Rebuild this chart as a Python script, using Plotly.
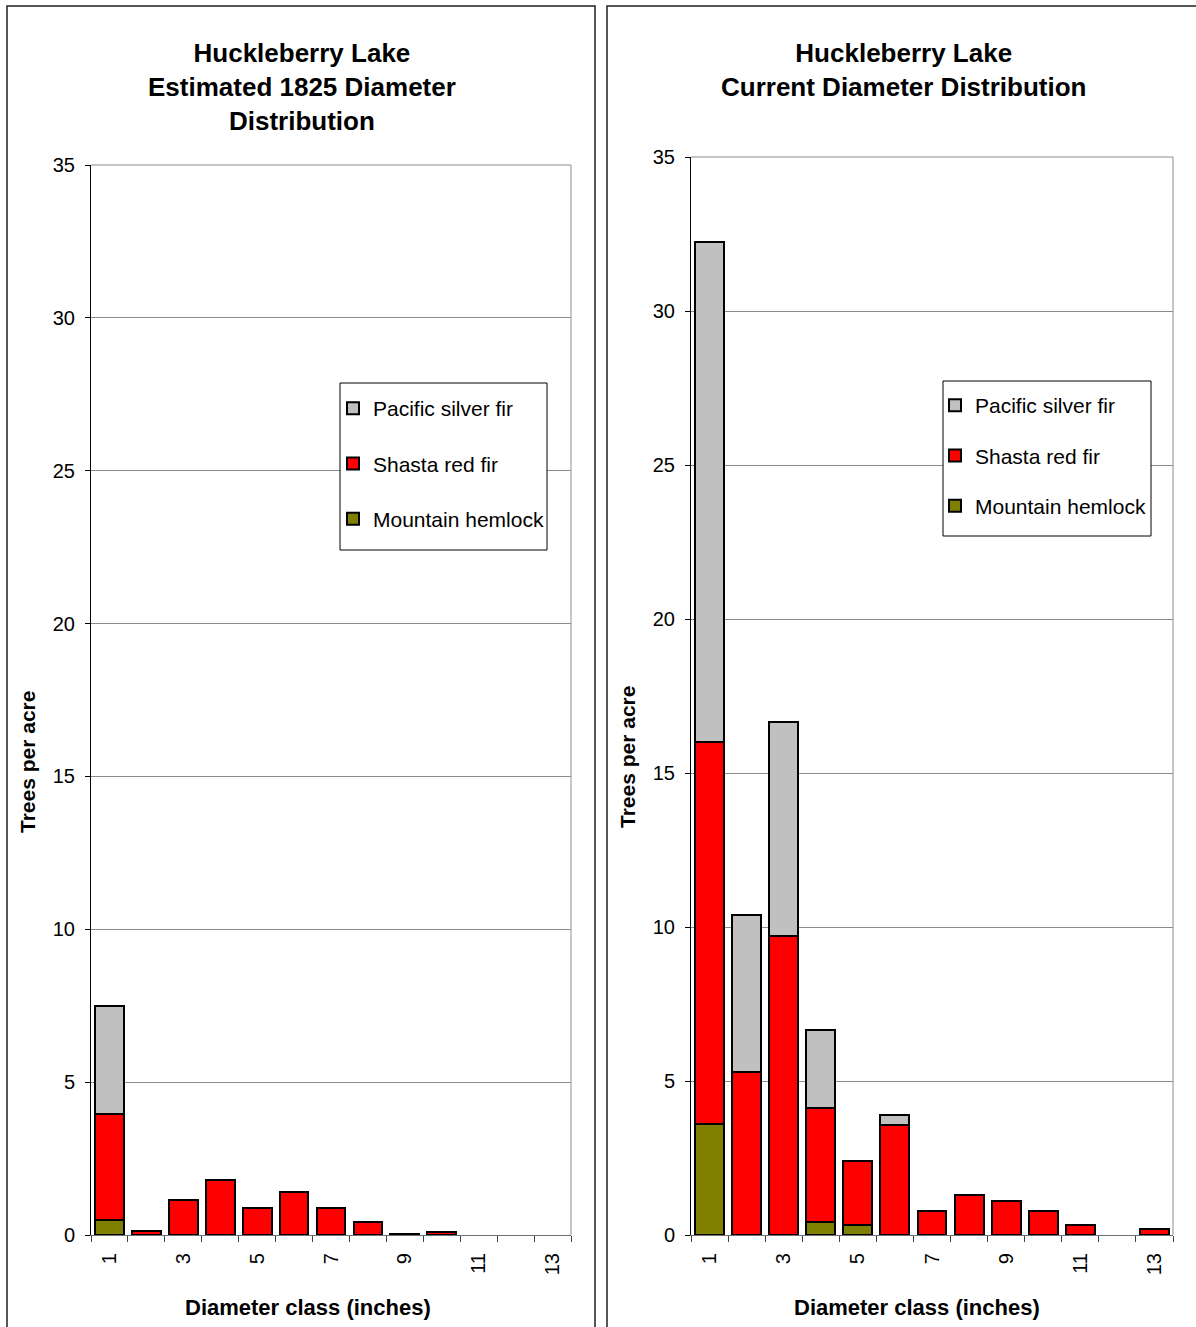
import plotly.graph_objects as go

# Diameter classes (inches)
classes = list(range(1, 14))
tick_vals = [1, 3, 5, 7, 9, 11, 13]
tick_text = ["1", "3", "5", "7", "9", "11", "13"]

# Estimated 1825 stand, trees per acre
hemlock_1825 = [0.5, 0, 0, 0, 0, 0, 0, 0, 0, 0, None, None, None]
red_1825 = [3.45, 0.12, 1.15, 1.8, 0.88, 1.4, 0.88, 0.43, 0.03, 0.1, None, None, None]
silver_1825 = [3.55, 0, 0, 0, 0, 0, 0, 0, 0, 0, None, None, None]

# Current stand, trees per acre
hemlock_now = [3.6, 0, 0, 0.43, 0.31, 0, 0, 0, 0, 0, 0, None, 0]
red_now = [12.4, 5.3, 9.7, 3.69, 2.09, 3.56, 0.79, 1.3, 1.1, 0.78, 0.32, None, 0.18]
silver_now = [16.25, 5.1, 6.95, 2.54, 0, 0.33, 0, 0, 0, 0, 0, None, 0]

# Stacked bottom-to-top; legend lists them top-to-bottom
species = ["Mountain hemlock", "Shasta red fir", "Pacific silver fir"]
colors = ["#808000", "#FF0000", "#C0C0C0"]
legend_rank = [3, 2, 1]

W, H = 1196, 1327
FONT = "Liberation Sans, Arial, sans-serif"


def px(x):
    return x / W


def py(y):
    return 1 - y / H


fig = go.Figure()

panels = [
    ("x", "y", "legend", [hemlock_1825, red_1825, silver_1825]),
    ("x2", "y2", "legend2", [hemlock_now, red_now, silver_now]),
]
for xa, ya, leg, series in panels:
    for name, color, rank, vals in zip(species, colors, legend_rank, series):
        fig.add_trace(go.Bar(
            x=classes, y=vals, name=name, xaxis=xa, yaxis=ya, legend=leg,
            legendgroup=name, legendrank=rank,
            marker=dict(color=color, line=dict(color="black", width=2)),
            hoverinfo="skip",
        ))

gridc = "#8c8c8c"


def xaxis_cfg(x0, x1, anchor):
    return dict(
        domain=[px(x0), px(x1)], anchor=anchor, range=[0.5, 13.5],
        automargin=False,
        tickmode="array", tickvals=tick_vals, ticktext=tick_text,
        tickangle=-90, ticks="", ticklabelstandoff=9,
        tickfont=dict(family=FONT, size=20, color="black"),
        showline=True, linecolor="#707070", linewidth=1,
        showgrid=False, zeroline=False, fixedrange=True,
        minor=dict(tickmode="array", tickvals=[i + 0.5 for i in range(0, 14)],
                   ticks="outside", ticklen=6, tickcolor="#404040",
                   tickwidth=1, showgrid=False),
    )


def yaxis_cfg(y0, y1, anchor):
    return dict(
        domain=[py(y0), py(y1)], anchor=anchor, range=[0, 35],
        automargin=False,
        tickmode="array", tickvals=list(range(0, 36, 5)),
        ticks="outside", ticklen=5, tickcolor="black", tickwidth=1,
        ticklabelstandoff=6,
        tickfont=dict(family=FONT, size=20, color="black"),
        showline=True, linecolor="black", linewidth=1,
        showgrid=True, gridcolor=gridc, gridwidth=1, zeroline=False,
        fixedrange=True,
    )


legend_common = dict(
    bgcolor="rgba(0,0,0,0)", borderwidth=0,
    font=dict(family=FONT, size=21, color="black"),
    traceorder="grouped", xanchor="left", yanchor="top",
    itemclick=False, itemdoubleclick=False,
)

fig.update_layout(
    width=W, height=H, margin=dict(l=0, r=0, t=0, b=0, autoexpand=False),
    paper_bgcolor="white", plot_bgcolor="white",
    barmode="stack", bargap=0.22,
    font=dict(family=FONT, color="black"),
    xaxis=xaxis_cfg(91, 571, "y"),
    yaxis=yaxis_cfg(1235, 165, "x"),
    xaxis2=xaxis_cfg(691, 1173, "y2"),
    yaxis2=yaxis_cfg(1235, 157, "x2"),
    legend=dict(legend_common, x=px(333), y=py(388), tracegroupgap=25),
    legend2=dict(legend_common, x=px(935), y=py(385), tracegroupgap=20),
)

shapes = []
# Panel frames
shapes.append(dict(type="rect", xref="paper", yref="paper",
                   x0=px(7), x1=px(595), y0=-0.02, y1=py(6),
                   line=dict(color="#202020", width=1.5), layer="below"))
shapes.append(dict(type="rect", xref="paper", yref="paper",
                   x0=px(607), x1=1.02, y0=-0.02, y1=py(6),
                   line=dict(color="#202020", width=1.5), layer="below"))
# Plot-area outlines (top and right edges)
for xa, ya in (("x", "y"), ("x2", "y2")):
    shapes.append(dict(type="line", xref=f"{xa} domain", yref=f"{ya} domain",
                       x0=0, x1=1, y0=1, y1=1, line=dict(color=gridc, width=1),
                       layer="below"))
    shapes.append(dict(type="line", xref=f"{xa} domain", yref=f"{ya} domain",
                       x0=1, x1=1, y0=0, y1=1, line=dict(color=gridc, width=1),
                       layer="below"))
# Legend boxes
for x0, x1, y0, y1 in ((340, 547, 383, 550), (943, 1151, 381, 536)):
    shapes.append(dict(type="rect", xref="paper", yref="paper",
                       x0=px(x0), x1=px(x1), y0=py(y1), y1=py(y0),
                       fillcolor="white", line=dict(color="black", width=1),
                       layer="above"))
fig.update_layout(shapes=shapes)

title_font = dict(family=FONT, size=26, color="black")
axis_font = dict(family=FONT, size=22, color="black")
annotations = [
    dict(text="<b>Huckleberry Lake<br>Estimated 1825 Diameter<br>Distribution</b>",
         x=px(302), y=py(87), xref="paper", yref="paper",
         xanchor="center", yanchor="middle", showarrow=False, font=title_font),
    dict(text="<b>Huckleberry Lake<br>Current Diameter Distribution</b>",
         x=px(904), y=py(70), xref="paper", yref="paper",
         xanchor="center", yanchor="middle", showarrow=False, font=title_font),
    dict(text="<b>Trees per acre</b>", textangle=-90,
         x=px(27), y=py(762), xref="paper", yref="paper",
         xanchor="center", yanchor="middle", showarrow=False,
         font=dict(axis_font, size=21)),
    dict(text="<b>Trees per acre</b>", textangle=-90,
         x=px(627), y=py(757), xref="paper", yref="paper",
         xanchor="center", yanchor="middle", showarrow=False,
         font=dict(axis_font, size=21)),
    dict(text="<b>Diameter class (inches)</b>",
         x=px(308), y=py(1307), xref="paper", yref="paper",
         xanchor="center", yanchor="middle", showarrow=False, font=axis_font),
    dict(text="<b>Diameter class (inches)</b>",
         x=px(917), y=py(1307), xref="paper", yref="paper",
         xanchor="center", yanchor="middle", showarrow=False, font=axis_font),
]
fig.update_layout(annotations=annotations)

fig.write_html("out.html")
